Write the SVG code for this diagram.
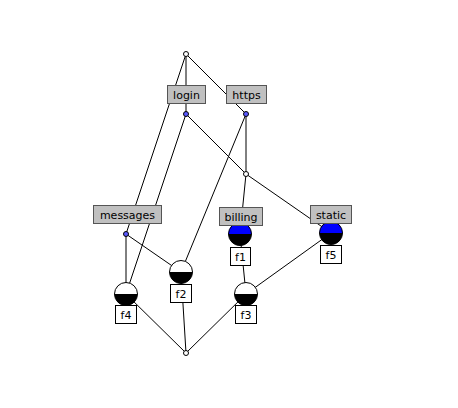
<svg xmlns="http://www.w3.org/2000/svg" width="458" height="408" viewBox="0 0 458 408">
<style>
.e{stroke:#000;stroke-width:1;fill:none}
.lb{fill:#c0c0c0;stroke:#555;stroke-width:1}
.ob{fill:#fff;stroke:#000;stroke-width:1}
.t{font-family:"DejaVu Sans",sans-serif;font-size:11px;fill:#000;text-anchor:middle}
.sn{fill:#fff;stroke:#000;stroke-width:1}
.bn{fill:#5a5aff;stroke:#000;stroke-width:1}
.blk{fill:#000}
</style>
<rect width="458" height="408" fill="#fff"/>
<g id="connectors">
<line class="e" x1="186" y1="54" x2="186" y2="114"/>
<line class="e" x1="186" y1="54" x2="126" y2="234"/>
<line class="e" x1="186" y1="54" x2="246" y2="114"/>
<line class="e" x1="186" y1="114" x2="126" y2="294"/>
<line class="e" x1="186" y1="114" x2="246" y2="174"/>
<line class="e" x1="246" y1="114" x2="246" y2="174"/>
<line class="e" x1="246" y1="114" x2="181" y2="272"/>
<line class="e" x1="246" y1="174" x2="240" y2="234"/>
<line class="e" x1="246" y1="174" x2="331" y2="233"/>
<line class="e" x1="126" y1="234" x2="126" y2="294"/>
<line class="e" x1="126" y1="234" x2="181" y2="272"/>
<line class="e" x1="240" y1="234" x2="246" y2="294"/>
<line class="e" x1="331" y1="233" x2="246" y2="294"/>
<line class="e" x1="181" y1="272" x2="186" y2="353"/>
<line class="e" x1="126" y1="294" x2="186" y2="353"/>
<line class="e" x1="246" y1="294" x2="186" y2="353"/>
</g>
<g id="top"><circle class="sn" cx="186" cy="54" r="2.5"/></g>
<g id="login">
<circle class="bn" cx="186" cy="114" r="2.5"/>
<rect class="lb" x="167.5" y="85.5" width="38" height="18"/>
<text class="t" x="186.5" y="99">login</text>
</g>
<g id="https">
<circle class="bn" cx="246" cy="114" r="2.5"/>
<rect class="lb" x="226.5" y="85.5" width="40" height="18"/>
<text class="t" x="246.5" y="99">https</text>
</g>
<g id="mid"><circle class="sn" cx="246" cy="174" r="2.5"/></g>
<g id="messages">
<circle class="bn" cx="126" cy="234" r="2.5"/>
<rect class="lb" x="93.5" y="205.5" width="68" height="18"/>
<text class="t" x="127.5" y="219">messages</text>
</g>
<g id="billing">
<path d="M228.5,234 A11.5,11.5 0 0 1 251.5,234 Z" fill="#0000ff"/>
<path d="M228.5,234 A11.5,11.5 0 0 0 251.5,234 Z" class="blk"/>
<circle cx="240" cy="234" r="11.5" fill="none" stroke="#000"/>
<rect class="lb" x="219.5" y="207.5" width="43" height="18"/>
<text class="t" x="241" y="221">billing</text>
<rect class="ob" x="230.5" y="247.5" width="20" height="18"/>
<text class="t" x="240.5" y="261">f1</text>
</g>
<g id="static">
<path d="M319.5,233 A11.5,11.5 0 0 1 342.5,233 Z" fill="#0000ff"/>
<path d="M319.5,233 A11.5,11.5 0 0 0 342.5,233 Z" class="blk"/>
<circle cx="331" cy="233" r="11.5" fill="none" stroke="#000"/>
<rect class="lb" x="310.5" y="205.5" width="41" height="18"/>
<text class="t" x="331" y="219">static</text>
<rect class="ob" x="320.5" y="245.5" width="21" height="18"/>
<text class="t" x="331" y="259">f5</text>
</g>
<g id="f2">
<path d="M169.5,272 A11.5,11.5 0 0 1 192.5,272 Z" fill="#fff"/>
<path d="M169.5,272 A11.5,11.5 0 0 0 192.5,272 Z" class="blk"/>
<circle cx="181" cy="272" r="11.5" fill="none" stroke="#000"/>
<rect class="ob" x="170.5" y="284.5" width="21" height="18"/>
<text class="t" x="181" y="298">f2</text>
</g>
<g id="f4">
<path d="M114.5,294 A11.5,11.5 0 0 1 137.5,294 Z" fill="#fff"/>
<path d="M114.5,294 A11.5,11.5 0 0 0 137.5,294 Z" class="blk"/>
<circle cx="126" cy="294" r="11.5" fill="none" stroke="#000"/>
<rect class="ob" x="115.5" y="305.5" width="21" height="18"/>
<text class="t" x="126" y="319">f4</text>
</g>
<g id="f3">
<path d="M234.5,294 A11.5,11.5 0 0 1 257.5,294 Z" fill="#fff"/>
<path d="M234.5,294 A11.5,11.5 0 0 0 257.5,294 Z" class="blk"/>
<circle cx="246" cy="294" r="11.5" fill="none" stroke="#000"/>
<rect class="ob" x="235.5" y="305.5" width="21" height="18"/>
<text class="t" x="246" y="319">f3</text>
</g>
<g id="bottom"><circle class="sn" cx="186" cy="353" r="2.5"/></g>
</svg>
